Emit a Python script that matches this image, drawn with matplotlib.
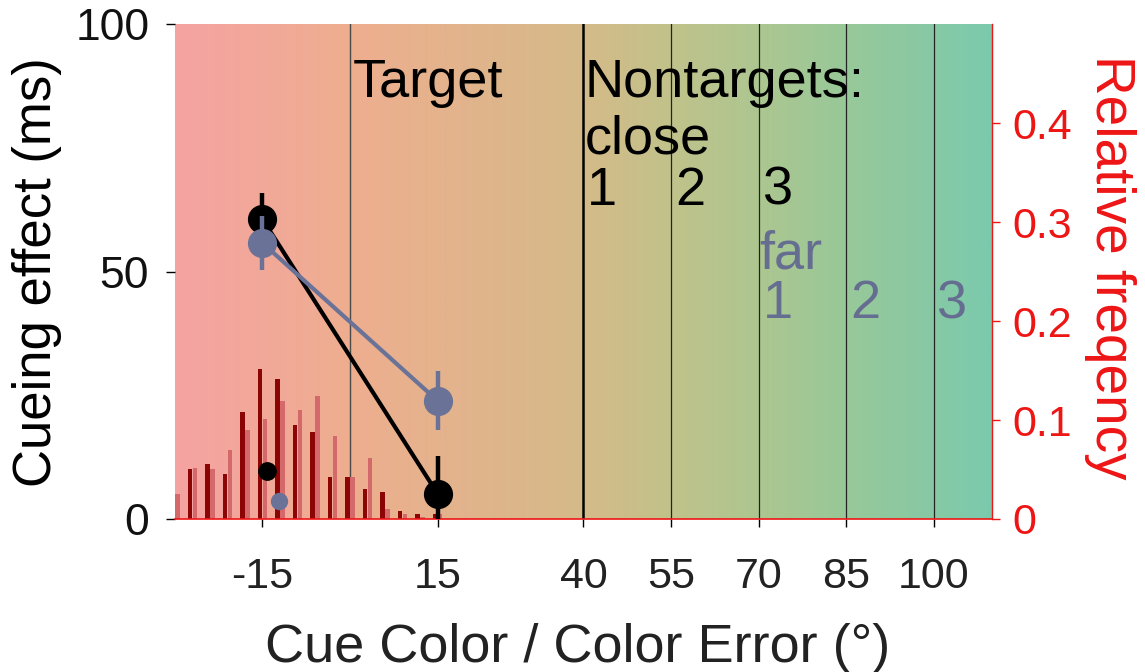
import numpy as np
import matplotlib
matplotlib.use("Agg")
import matplotlib.pyplot as plt
from matplotlib.colors import LinearSegmentedColormap

plt.rcParams['font.family'] = ['Liberation Sans', 'DejaVu Sans']
plt.rcParams['axes.unicode_minus'] = False

# histogram of colour errors, 3 deg bins (right axis)
bin_centers = [-30, -27, -24, -21, -18, -15, -12, -9, -6, -3, 0, 3, 6, 9, 12, 15]
freq_dark = [0.030, 0.051, 0.056, 0.045, 0.108, 0.152, 0.141, 0.095,
             0.088, 0.042, 0.042, 0.030, 0.027, 0.008, 0.005, 0.005]
freq_light = [0.025, 0.052, 0.051, 0.070, 0.090, 0.101, 0.119, 0.110,
              0.124, 0.084, 0.042, 0.062, 0.010, 0.005, 0.002, 0.005]

# cueing effect (left axis)
cue_x = [-15, 15]
close_effect = [60.6, 5.1]
close_err = [5.2, 7.7]
far_effect = [55.8, 23.9]
far_err = [5.5, 6.0]

extra_x = [-14.2, -12.2]
extra_y = [9.8, 3.7]

region_edges = [0, 40, 55, 70, 85, 100]
x_ticks = [-15, 15, 40, 55, 70, 85, 100]
left_ticks = [0, 50, 100]
right_ticks = [0, 0.1, 0.2, 0.3, 0.4]
right_ticklabels = ['0', '0.1', '0.2', '0.3', '0.4']

# background colour ramp (x position, colour)
ramp_x = [-30, 0, 40, 55, 70, 85, 100, 110]
ramp_c = ['#F5A3A2', '#EEAE8F', '#D5BA89', '#C1C28B', '#ADC690',
          '#98C899', '#87C9A4', '#7BCAAE']

RED = '#EE1515'
GRAY = '#6A7397'
GRAY_TXT = '#656E90'

fig = plt.figure(figsize=(11.45, 6.72), dpi=100)
ax = fig.add_axes([0.1528, 0.2277, 0.7136, 0.7361])
ax2 = ax.twinx()
ax.set_zorder(ax2.get_zorder() + 1)
ax.patch.set_visible(False)

# background gradient
pos = [(v - ramp_x[0]) / (ramp_x[-1] - ramp_x[0]) for v in ramp_x]
cmap = LinearSegmentedColormap.from_list('bg', list(zip(pos, ramp_c)))
ax2.imshow(np.linspace(0, 1, 600)[None, :], cmap=cmap, aspect='auto',
           extent=[-30, 110, 0, 0.5], zorder=0, interpolation='bilinear')

for xe in region_edges:
    if xe == 40:
        ax2.axvline(xe, color='black', lw=1.8, zorder=1)
    elif xe == 0:
        ax2.axvline(xe, color='#4a4a4a', lw=1.0, zorder=1)
    else:
        ax2.axvline(xe, color='#222222', lw=0.9, zorder=1)

bc = np.array(bin_centers)
ax2.bar(bc - 0.42, freq_dark, width=0.8, color='#8B0505', zorder=2)
ax2.bar(bc + 0.42, freq_light, width=0.8, color='#D4696B', zorder=2)

# cueing effect lines
ax.errorbar(cue_x, close_effect, yerr=close_err, color='black', lw=3,
            elinewidth=3.2, marker='o', ms=20, capsize=0, zorder=3)
ax.errorbar(cue_x, far_effect, yerr=far_err, color=GRAY, lw=3,
            elinewidth=3.2, marker='o', ms=20, capsize=0, zorder=4)
ax.plot(extra_x[0], extra_y[0], 'o', color='black', ms=12.5, zorder=5)
ax.plot(extra_x[1], extra_y[1], 'o', color=GRAY, ms=11.5, zorder=5)

# region labels
fs = 39
ax.text(0.4, 85.4, 'Target', fontsize=fs, va='baseline')
ax.text(40.2, 85.4, 'Nontargets:', fontsize=fs, va='baseline')
ax.text(40.2, 73.9, 'close', fontsize=fs, va='baseline')
for xc, lab in zip([40.6, 55.8, 70.7], ['1', '2', '3']):
    ax.text(xc, 63.5, lab, fontsize=fs, va='baseline')
ax.text(70.1, 50.7, 'far', fontsize=fs, va='baseline', color=GRAY_TXT)
for xc, lab in zip([70.8, 85.7, 100.6], ['1', '2', '3']):
    ax.text(xc, 40.6, lab, fontsize=fs, va='baseline', color=GRAY_TXT)

# axes cosmetics
ax.set_xlim(-30, 110)
ax.set_ylim(0, 100)
ax2.set_ylim(0, 0.5)
ax.set_xticks(x_ticks)
ax.set_yticks(left_ticks)
ax2.set_yticks(right_ticks)
ax2.set_yticklabels(right_ticklabels)

for s in ['top', 'right', 'left']:
    ax.spines[s].set_visible(False)
ax.spines['bottom'].set_color(RED)
ax.spines['bottom'].set_linewidth(1.2)
for s in ['top', 'left', 'bottom']:
    ax2.spines[s].set_visible(False)
ax2.spines['right'].set_color(RED)
ax2.spines['right'].set_linewidth(1.0)

ax.tick_params(axis='x', direction='out', length=5.5, width=1, pad=22,
               labelsize=31, color='black', labelcolor='#222222')
ax.tick_params(axis='y', direction='out', length=6.5, width=1, pad=12,
               labelsize=32, color='black', labelcolor='#111111')
ax2.tick_params(axis='y', direction='out', length=6, width=1, pad=9,
                labelsize=31, color=RED, labelcolor=RED)

ax.set_xlabel('Cue Color / Color Error (°)', fontsize=fs, color='#222222',
              va='baseline', ha='center')
ax.xaxis.set_label_coords(0.493, -0.2885)
ax.set_ylabel('Cueing effect (ms)', fontsize=38, va='center', ha='center')
ax.yaxis.set_label_coords(-0.169, 0.5)
ax2.set_ylabel('Relative freqency', fontsize=39.5, color=RED, rotation=-90,
               va='center', ha='center')
ax2.yaxis.set_label_coords(1.1444, 0.508)

fig.savefig('out.png', dpi=100)
plt.close(fig)
